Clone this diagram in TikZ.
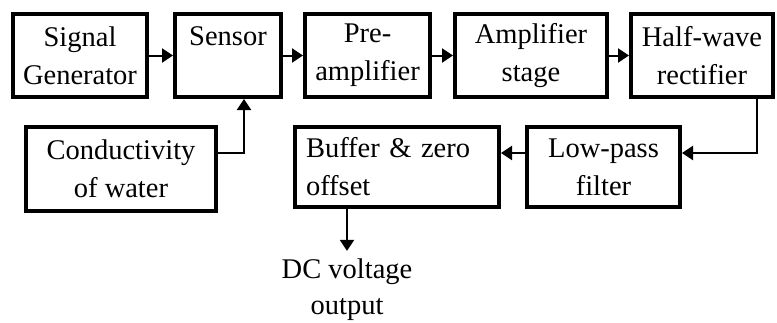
\documentclass[tikz,border=0pt]{standalone}
\usepackage{fontspec}
\setmainfont{Liberation Serif}
\usetikzlibrary{arrows.meta}
\begin{document}
\begin{tikzpicture}[x=1pt,y=-1pt,
  blk/.style={draw,line width=4pt,inner sep=0pt,align=center,
    font=\fontsize{28.5}{38}\selectfont},
  conn/.style={line width=2pt,-{Triangle[length=11pt,width=14pt]}},
  lbl/.style={align=center,inner sep=0pt,font=\fontsize{28.5}{36}\selectfont}]
\useasboundingbox (0,0) rectangle (777,322);
\node[blk,minimum width=134pt,minimum height=83pt] (sig) at (80,55.5) {Signal\\Generator};
\node[blk,minimum width=106pt,minimum height=83pt] (sen) at (228,55.5) {Sensor\\~};
\node[blk,minimum width=125pt,minimum height=83pt] (pre) at (367.5,55.5) {Pre-\\amplifier};
\node[blk,minimum width=152pt,minimum height=83pt] (amp) at (531,55.5) {Amplifier\\stage};
\node[blk,minimum width=142pt,minimum height=83pt] (hwr) at (702,55.5) {Half-wave\\rectifier};
\node[blk,minimum width=190pt,minimum height=84pt] (con) at (121,169) {Conductivity\\of water};
\node[blk,minimum width=204pt,minimum height=80pt,align=left,text width=182pt,inner xsep=11pt] (buf) at (397,167) {Buffer \& zero\\offset};
\node[blk,minimum width=153pt,minimum height=80pt] (lpf) at (603.5,167) {Low-pass\\filter};
\node[lbl] (out) at (347,290) {DC voltage\\output};
\draw[conn] (sig) -- (sen);
\draw[conn] (sen) -- (pre);
\draw[conn] (pre) -- (amp);
\draw[conn] (amp) -- (hwr);
\draw[conn] ([yshift=16pt]con.east) -| ([xshift=16pt]sen.south);
\draw[conn] ([xshift=55pt]hwr.south) |- ([yshift=14pt]lpf.east);
\draw[conn] ([yshift=14pt]lpf.west) -- ([yshift=14pt]buf.east);
\draw[conn] ([xshift=-50pt]buf.south) -- ([yshift=8pt]out.north);
\end{tikzpicture}
\end{document}
